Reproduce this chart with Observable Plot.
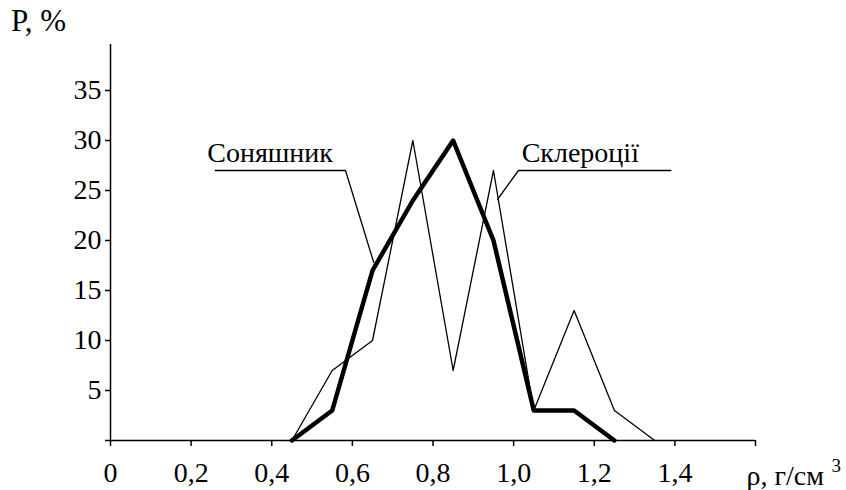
<!DOCTYPE html>
<html>
<head>
<meta charset="utf-8">
<script src="https://cdn.jsdelivr.net/npm/d3@7"></script>
<script src="https://cdn.jsdelivr.net/npm/@observablehq/plot@0.6"></script>
<style>
  html, body { margin: 0; padding: 0; background: #fff; }
  #chart { position: relative; width: 846px; height: 490px; }
  #ylabel { position: absolute; left: 11px; top: 4px; font-family: "Liberation Serif", "DejaVu Serif", serif; font-size: 31px; color: #000; line-height: 1.1; }
  svg text { font-family: "Liberation Serif", "DejaVu Serif", serif !important; }
</style>
</head>
<body>
<div id="chart"><div id="ylabel">P, %</div></div>
<script>
// density classes, g/cm3
const rho = [0.45, 0.55, 0.65, 0.75, 0.85, 0.95, 1.05, 1.15, 1.25, 1.35];
// Соняшник (thick line)
const sunflower = [0, 3, 17, 24, 30, 20, 3, 3, 0];
// Склероції (thin line)
const sclerotia = [0, 7, 10, 30, 7, 27, 3, 13, 3, 0];
const xTicks = [0, 0.2, 0.4, 0.6, 0.8, 1.0, 1.2, 1.4, 1.6];
const yTicks = [0, 5, 10, 15, 20, 25, 30, 35];
const xUnit = "ρ, г/см";
const xUnitSup = "3";
// leader lines for labels (data units)
const sunLeaderX = [0.26, 0.583, 0.653];
const sunLeaderY = [27, 27, 17.8];
const sclLeaderX = [1.39, 1.012, 0.96];
const sclLeaderY = [27, 27, 24.1];
const labelNames = ["Соняшник", "Склероції"];
const labelX = [0.24, 1.02];
const labelY = [27.9, 27.9];

const sunData = sunflower.map((v, i) => ({x: rho[i], y: v}));
const sclData = sclerotia.map((v, i) => ({x: rho[i], y: v}));
const sunLeader = sunLeaderX.map((x, i) => ({x, y: sunLeaderY[i]}));
const sclLeader = sclLeaderX.map((x, i) => ({x, y: sclLeaderY[i]}));
const labels = labelNames.map((name, i) => ({name, x: labelX[i], y: labelY[i]}));

const font = "'Liberation Serif', 'DejaVu Serif', serif";
const fmt = d => d === 0 ? "0" : d === 1.6 ? "" : d3.format(".1f")(d).replace(".", ",");
const FS = 28;

const plot = Plot.plot({
  width: 846,
  height: 490,
  marginLeft: 110,
  marginRight: 91,
  marginTop: 44,
  marginBottom: 50,
  style: {fontFamily: font, fontSize: FS + "px", color: "#000", background: "#fff"},
  x: {domain: [0, 1.6]},
  y: {domain: [0, 39.6]},
  marks: [
    Plot.axisY(yTicks, {tickSize: 5, tickPadding: 4, fontSize: FS, label: null, tickFormat: d => d === 0 ? "" : d, strokeWidth: 1.5}),
    Plot.axisX(xTicks, {tickSize: 6, tickPadding: 16, fontSize: FS, label: null, tickFormat: fmt, strokeWidth: 1.5}),
    Plot.text([xUnit], {x: () => 1.6, y: () => 0, text: d => d, dy: 36, dx: -9, textAnchor: "start", fontSize: FS}),
    Plot.text([xUnitSup], {x: () => 1.6, y: () => 0, text: d => d, dy: 25, dx: 76, textAnchor: "start", fontSize: 19}),
    Plot.ruleY([0], {x1: 0, x2: 1.6, stroke: "#000", strokeWidth: 1.5}),
    Plot.ruleX([0], {y1: 0, y2: 39.6, stroke: "#000", strokeWidth: 1.5}),
    Plot.line(sunLeader, {x: "x", y: "y", stroke: "#000", strokeWidth: 1.3}),
    Plot.line(sclLeader, {x: "x", y: "y", stroke: "#000", strokeWidth: 1.3}),
    Plot.line(sclData, {x: "x", y: "y", stroke: "#000", strokeWidth: 1.3}),
    Plot.line(sunData, {x: "x", y: "y", stroke: "#000", strokeWidth: 4.5}),
    Plot.text(labels, {x: "x", y: "y", text: "name", textAnchor: "start", fontSize: FS, lineAnchor: "bottom"})
  ]
});
document.getElementById("chart").appendChild(plot);
</script>
</body>
</html>
